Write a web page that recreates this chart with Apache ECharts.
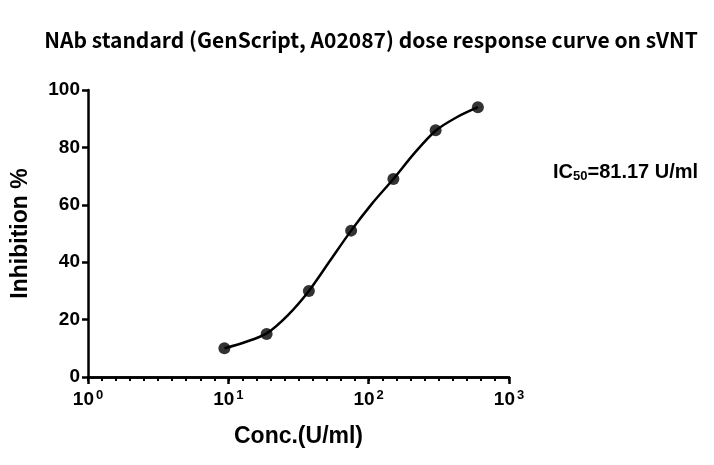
<!DOCTYPE html>
<html>
<head>
<meta charset="utf-8">
<script src="https://cdn.jsdelivr.net/npm/echarts@6/dist/echarts.min.js"></script>
<style>
html,body{margin:0;padding:0;background:#fff;}
#chart{width:714px;height:465px;}
</style>
</head>
<body>
<div id="chart"></div>
<script>
// Data
var concentrations = [9.375, 18.75, 37.5, 75, 150, 300, 600];
var inhibition = [10, 15, 30, 51, 69, 86, 94];
// fitted curve
var curveConc = [9.375, 13.26, 18.75, 26.5, 37.5, 53, 75, 106, 150, 212, 300, 424, 600];
var curveInhib = [10, 12.2, 15.2, 21.5, 30, 40.5, 51, 60.5, 69, 78, 85.8, 90.5, 94];
var decadeExponents = [0, 3];
var yTicks = [0, 20, 40, 60, 80, 100];
var titleText = 'NAb standard (GenScript, A02087) dose response curve on sVNT';
var xName = 'Conc.(U/ml)';
var yName = 'Inhibition %';
var ic50Text = 'IC{sub|50}=81.17 U/ml';

var pts = concentrations.map(function (c, i) { return [c, inhibition[i]]; });
var curve = curveConc.map(function (c, i) { return [c, curveInhib[i]]; });

var chart = echarts.init(document.getElementById('chart'), null, {renderer: 'canvas'});
var labelFont = '"Liberation Sans", Arial, sans-serif';
chart.setOption({
  animation: false,
  backgroundColor: '#fff',
  title: {text: titleText, left: 366, top: 25, textAlign: 'center',
    textStyle: {fontFamily: '"Noto Sans CJK SC", "Noto Sans", sans-serif', fontWeight: 'bold', fontSize: 21, color: '#000'}},
  grid: {left: 88, right: 205, top: 90, bottom: 88},
  xAxis: [{
    type: 'log', logBase: 10, min: 1, max: 1000,
    name: xName, nameLocation: 'middle', nameGap: 48,
    nameTextStyle: {fontFamily: labelFont, fontWeight: 'bold', fontSize: 23, color: '#000'},
    axisLine: {lineStyle: {color: '#000', width: 2.5}},
    axisTick: {show: true, length: 7, lineStyle: {color: '#000', width: 2.5}},
    splitLine: {show: false},
    axisLabel: {margin: 12,
      formatter: function (v) { return '10{sup|' + Math.round(Math.log10(v)) + '}'; },
      fontFamily: labelFont, fontWeight: 'bold', fontSize: 19, color: '#000',
      rich: {sup: {fontFamily: labelFont, fontWeight: 'bold', fontSize: 13, color: '#000', verticalAlign: 'top', padding: [0, 0, 8, 2]}}}
  }, {
    // evenly spaced minor ticks (10 per decade), as in the reference
    type: 'value', min: decadeExponents[0], max: decadeExponents[1], interval: 0.1,
    position: 'bottom', offset: 0,
    axisLine: {show: true, onZero: false, lineStyle: {color: '#000', width: 2.5}},
    axisTick: {show: true, interval: 0, length: 4, lineStyle: {color: '#000', width: 2}},
    axisLabel: {show: false},
    splitLine: {show: false}
  }],
  yAxis: {
    type: 'value', min: yTicks[0], max: yTicks[yTicks.length - 1], interval: 20,
    name: yName, nameLocation: 'middle', nameGap: 56,
    nameTextStyle: {fontFamily: labelFont, fontWeight: 'bold', fontSize: 23, color: '#000'},
    axisLine: {show: true, lineStyle: {color: '#000', width: 2.5}},
    axisTick: {show: true, length: 6, lineStyle: {color: '#000', width: 2.5}},
    splitLine: {show: false},
    axisLabel: {margin: 8, fontFamily: labelFont, fontWeight: 'bold', fontSize: 19, color: '#000'}
  },
  graphic: [{
    type: 'text', left: 553, top: 162,
    style: {
      text: ic50Text,
      font: 'bold 20px "Liberation Sans", Arial, sans-serif',
      fill: '#000',
      rich: {sub: {font: 'bold 13px "Liberation Sans", Arial, sans-serif', fill: '#000', verticalAlign: 'bottom', padding: [9, 0, 0, 0]}}
    }
  }],
  series: [{type: 'line', data: curve, smooth: 0.3, symbol: 'none', lineStyle: {color: '#000', width: 2.5}},
    {type: 'scatter', data: pts, symbol: 'circle', symbolSize: 12, itemStyle: {color: '#000'}},
    {type: 'line', xAxisIndex: 1, data: [], silent: true}]
});
</script>
</body>
</html>
